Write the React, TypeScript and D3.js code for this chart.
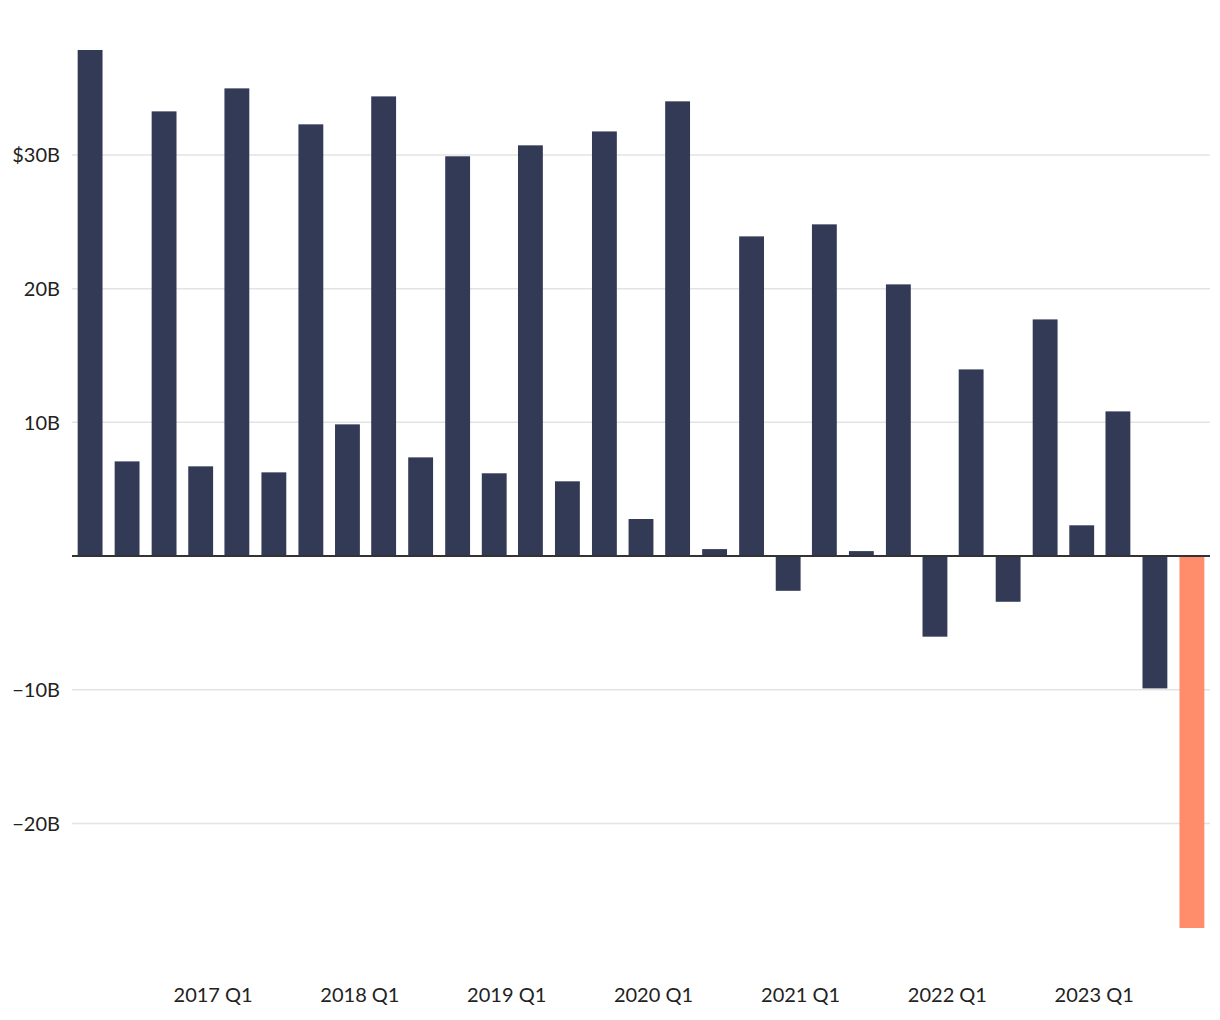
import React from "react";
import * as d3 from "d3";

const quarters: string[] = [
  "2016 Q1", "2016 Q2", "2016 Q3", "2016 Q4",
  "2017 Q1", "2017 Q2", "2017 Q3", "2017 Q4",
  "2018 Q1", "2018 Q2", "2018 Q3", "2018 Q4",
  "2019 Q1", "2019 Q2", "2019 Q3", "2019 Q4",
  "2020 Q1", "2020 Q2", "2020 Q3", "2020 Q4",
  "2021 Q1", "2021 Q2", "2021 Q3", "2021 Q4",
  "2022 Q1", "2022 Q2", "2022 Q3", "2022 Q4",
  "2023 Q1", "2023 Q2", "2023 Q3",
];

const values: number[] = [
  37.85, 7.08, 33.26, 6.71,
  34.98, 6.26, 32.29, 9.85,
  34.38, 7.38, 29.9, 6.19,
  30.72, 5.59, 31.76, 2.77,
  34.01, 0.52, 23.91, -2.6,
  24.81, 0.37, 20.32, -6.03,
  13.96, -3.42, 17.7, 2.3,
  10.82, -9.9, -27.82,
];

const yTicks: number[] = [-20, -10, 10, 20, 30];
const xTickYears: number[] = [2017, 2018, 2019, 2020, 2021, 2022, 2023];

const W = 1220;
const H = 1020;

function quarterDate(label: string): Date {
  const [y, q] = label.split(" Q");
  return new Date(+y, (+q - 1) * 3 + 2, 1);
}

export default function App() {
  const dates = quarters.map(quarterDate);
  const x = d3
    .scaleTime()
    .domain([d3.timeDay.offset(dates[0], -45), d3.timeDay.offset(dates[dates.length - 1], 45)])
    .range([72, 1210]);
  const step = x(dates[1]) - x(dates[0]);
  const bw = step * 0.672;

  const y = d3.scaleLinear().domain([d3.min(values)!, d3.max(values)!]).range([928, 50]);

  const fmt = (v: number) => {
    const s = `${Math.abs(v)}B`;
    if (v < 0) return `\u2212${s}`;
    if (v === d3.max(yTicks)) return `$${s}`;
    return s;
  };

  const font = "Lato, 'Source Sans Pro', 'Noto Sans', sans-serif";

  return (
    <svg
      width={W}
      height={H}
      style={{ position: "absolute", left: 0, top: 0, background: "#fff" }}
      fontFamily={font}
    >
      {yTicks.map((t) => (
        <g key={t}>
          <line x1={72} x2={1210} y1={y(t)} y2={y(t)} stroke="#e3e3e3" strokeWidth={1.5} />
          <text x={60} y={y(t)} dy="0.36em" textAnchor="end" fontSize={20} fill="#222">
            {fmt(t)}
          </text>
        </g>
      ))}
      {values.map((v, i) => (
        <rect
          key={quarters[i]}
          x={x(dates[i]) - bw / 2}
          width={bw}
          y={Math.min(y(v), y(0))}
          height={Math.abs(y(v) - y(0))}
          fill={i === values.length - 1 ? "#ff8c6b" : "#333a56"}
        />
      ))}
      <line x1={72} x2={1210} y1={y(0)} y2={y(0)} stroke="#333" strokeWidth={2} />
      {xTickYears.map((yr) => (
        <text
          key={yr}
          x={x(new Date(yr, 0, 1))}
          y={1002}
          textAnchor="middle"
          fontSize={20}
          fill="#222"
        >
          {`${yr} Q1`}
        </text>
      ))}
    </svg>
  );
}
